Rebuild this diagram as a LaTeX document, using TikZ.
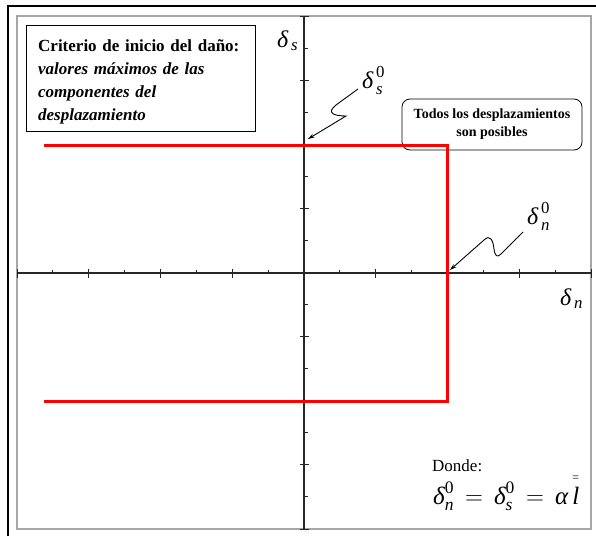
\documentclass[tikz,border=0pt]{standalone}
\usepackage{fontspec}
\usepackage{amsmath}
\setmainfont{Liberation Serif}
\usetikzlibrary{arrows.meta}
\newcommand{\gd}{\text{\itshape δ}}
\newcommand{\ga}{\text{\itshape α}}
\newcommand{\ts}[1]{\text{\itshape #1}}
\begin{document}
\begin{tikzpicture}[x=1pt,y=-1pt,
  axisline/.style={line width=1.1pt, black!85},
  tickline/.style={line width=1pt, black!85},
  redline/.style={line width=3pt, red},
  pointer/.style={line width=0.9pt, -{Stealth[length=6.5pt,width=4pt]}},
  lbl/.style={inner sep=0pt, anchor=base west, font=\fontsize{24}{24}\selectfont}]
\useasboundingbox (0,0) rectangle (596,536);
\fill[white] (0,0) rectangle (596,536);
% frames
\draw[line width=1.6pt] (8,536) -- (8,6) -- (596,6);
\draw[line width=1.8pt, black!35] (17,16) rectangle (591,529);
% axes
\coordinate (xl) at (17,273);
\coordinate (xr) at (591,273);
\coordinate (yt) at (304,16);
\coordinate (yb) at (304,529);
\draw[axisline] (xl) -- (xr);
\draw[axisline] (yt) -- (yb);
\foreach \k in {0,...,8} {
  \draw[tickline] (17+71.75*\k,268.5) -- ++(0,9);
  \draw[tickline] (299.5,16+64.125*\k) -- ++(9,0);
}
\foreach \k in {0,...,7} {
  \draw[tickline] (17+71.75*\k+35.875,273) -- ++(0,-3.5);
  \draw[tickline] (304,16+64.125*\k+32.06) -- ++(3.5,0);
}
% boxes
\node (crit) [draw, line width=0.8pt, anchor=north west, minimum width=229pt,
  minimum height=106pt, inner sep=0pt] at (26,25) {};
\node (crittext) [anchor=north west, inner sep=0pt, text width=215pt,
  align=left, font=\fontsize{17}{23}\selectfont\bfseries] at (38,39.5)
  {Criterio de inicio del daño:\\ \textit{valores máximos de las}\\
   \textit{componentes del}\\ \textit{desplazamiento}};
\node (todos) [draw, fill=white, line width=0.8pt, rounded corners=8pt,
  minimum width=180pt, minimum height=51pt, inner sep=0pt, align=center,
  font=\fontsize{14}{18}\selectfont\bfseries] at (492,124.5)
  {Todos los desplazamientos\\ son posibles};
% red criterion
\coordinate (r1) at (44,145);
\coordinate (r2) at (447,145);
\coordinate (r3) at (447,401);
\coordinate (r4) at (44,401);
\draw[redline] (r1) -- (r2) -- (r3) -- (r4);
% labels
\node (ds) [lbl] at (277,47) {$\gd_{\,\ts{s}}$};
\node (dn) [lbl] at (560,305) {$\gd_{\,\ts{n}}$};
\node (ds0) [lbl] at (362,88) {$\gd_{\,\ts{s}}^{\,\text{0}}$};
\node (dn0) [lbl] at (527,224) {$\gd_{\,\ts{n}}^{\,\text{0}}$};
\node (donde) [inner sep=0pt, anchor=base west, font=\fontsize{17}{17}\selectfont] at (432,471) {Donde:};
\node (eq) [inner sep=0pt, anchor=base west, font=\fontsize{25}{25}\selectfont] at (433,504)
  {$\gd_{\ts{n}}^{\text{0}} \,=\, \gd_{\ts{s}}^{\text{0}} \,=\, \ga\,\overset{\text{\fontsize{12}{12}\selectfont =}}{\ts{l}}$};
% pointers
\coordinate (p1s) at (358,89);
\coordinate (p1t) at (308,139);
\draw[pointer] (p1s) -- (336,105) .. controls (326,113) and (334,116) .. (346,116) -- (p1t);
\coordinate (p2s) at (523,232);
\coordinate (p2t) at (450,270);
\draw[pointer] (p2s) -- (501,254) .. controls (497,258) and (495,256) .. (494,249)
  .. controls (493,240) and (490,234) .. (484,240) -- (p2t);
\end{tikzpicture}
\end{document}
